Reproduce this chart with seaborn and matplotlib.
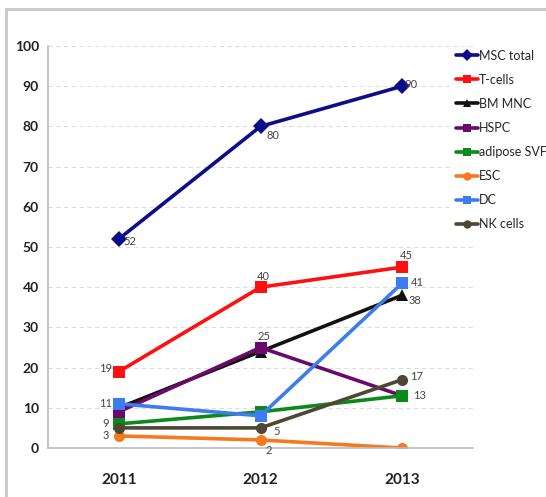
import matplotlib
matplotlib.use("Agg")
import matplotlib.pyplot as plt
from matplotlib.lines import Line2D
import pandas as pd
import seaborn as sns

# data
years = ["2011", "2012", "2013"]
series = ["MSC total", "T-cells", "BM MNC", "HSPC", "adipose SVF", "ESC", "DC", "NK cells"]
msc_total = [52, 80, 90]
t_cells = [19, 40, 45]
bm_mnc = [10, 24, 38]
hspc = [9, 25, 13]
adipose_svf = [6, 9, 13]
esc = [3, 2, 0]
dc = [11, 8, 41]
nk_cells = [5, 5, 17]

values = [msc_total, t_cells, bm_mnc, hspc, adipose_svf, esc, dc, nk_cells]
colors = ["#0d0d8a", "#ff1010", "#111111", "#6a0a6a", "#0a8a1a", "#f57a1e", "#3d7cf0", "#4d4733"]
marker_map = ["D", "s", "^", "s", "s", "o", "s", "o"]

rows = []
for name, vals in zip(series, values):
    for yr, v in zip(years, vals):
        rows.append({"year": yr, "count": v, "series": name})
df = pd.DataFrame(rows)

sns.set_style("white")
plt.rcParams['font.family'] = ['Lato', 'DejaVu Sans']

fig = plt.figure(figsize=(5.46, 4.97), dpi=100)
ax = fig.add_axes([48 / 546, 1 - 448 / 497, (473 - 48) / 546, (448 - 46) / 497])

sns.lineplot(data=df, x="year", y="count", hue="series", style="series",
             palette=dict(zip(series, colors)), markers=dict(zip(series, marker_map)),
             dashes=False, linewidth=2.6, markersize=8, markeredgewidth=0,
             sort=False, ax=ax, legend=False)

ax.set_xlim(-0.5, 2.5)
ax.set_ylim(0, 100)
ax.set_yticks(range(0, 101, 10))
ax.set_xticks([0, 1, 2])
ax.set_xticklabels(years, fontsize=11, fontweight="bold", color="#222222")
ax.set_xticks([-0.5, 0.5, 1.5, 2.5], minor=True)
ax.tick_params(axis="x", which="major", length=0, pad=18)
ax.tick_params(axis="x", which="minor", length=4, color="#bbbbbb", direction="out")
ax.tick_params(axis="y", length=3, color="#bbbbbb", direction="out", labelsize=10)
for lab in ax.get_yticklabels():
    lab.set_fontweight("bold")
    lab.set_color("#222222")
ax.set_xlabel("")
ax.set_ylabel("")
ax.yaxis.grid(True, linestyle=(0, (4, 3)), color="#dddddd", linewidth=0.8)
ax.set_axisbelow(True)
for s in ["top", "right"]:
    ax.spines[s].set_visible(False)
for s in ["left", "bottom"]:
    ax.spines[s].set_color("#bbbbbb")
    ax.spines[s].set_linewidth(1.2)

# data labels: (series index, year index, dx, dy in pixels)
label_pos = [
    (0, 0, 11, -3), (0, 1, 12, -9), (0, 2, 9, 2),
    (1, 0, -13, 3), (1, 1, 3, 11), (1, 2, 4, 12),
    (2, 2, 13, -5),
    (3, 1, 3, 11), (3, 0, -13, -12),
    (4, 2, 17, 0),
    (5, 0, -13, 0), (5, 1, 8, -11),
    (6, 0, -13, 0), (6, 2, 15, 1),
    (7, 1, 16, -4), (7, 2, 14, 3),
]
for si, yi, dx, dy in label_pos:
    v = values[si][yi]
    ax.annotate(str(v), (yi, v), xytext=(dx, dy), textcoords="offset pixels",
                ha="center", va="center", fontsize=8, color="#444444")

handles = [Line2D([0], [0], color=c, marker=m, linewidth=2.6, markersize=6, markeredgewidth=0)
           for c, m in zip(colors, marker_map)]
leg = fig.legend(handles, series, loc="upper left", bbox_to_anchor=(453 / 546, 1 - 47 / 497),
                 fontsize=9, handlelength=1.8, handletextpad=0.1, labelspacing=0.97,
                 frameon=True, borderaxespad=0, borderpad=0.2)
leg.get_frame().set_facecolor("white")
leg.get_frame().set_edgecolor("white")

# outer frame of the picture
fig.add_artist(Line2D([6 / 546, 6 / 546], [0, 1 - 9 / 497], color="#c8c8c8", linewidth=2,
                      transform=fig.transFigure))
fig.add_artist(Line2D([6 / 546, 1], [1 - 9 / 497, 1 - 9 / 497], color="#c8c8c8", linewidth=2,
                      transform=fig.transFigure))

fig.savefig("out.png", dpi=100)
